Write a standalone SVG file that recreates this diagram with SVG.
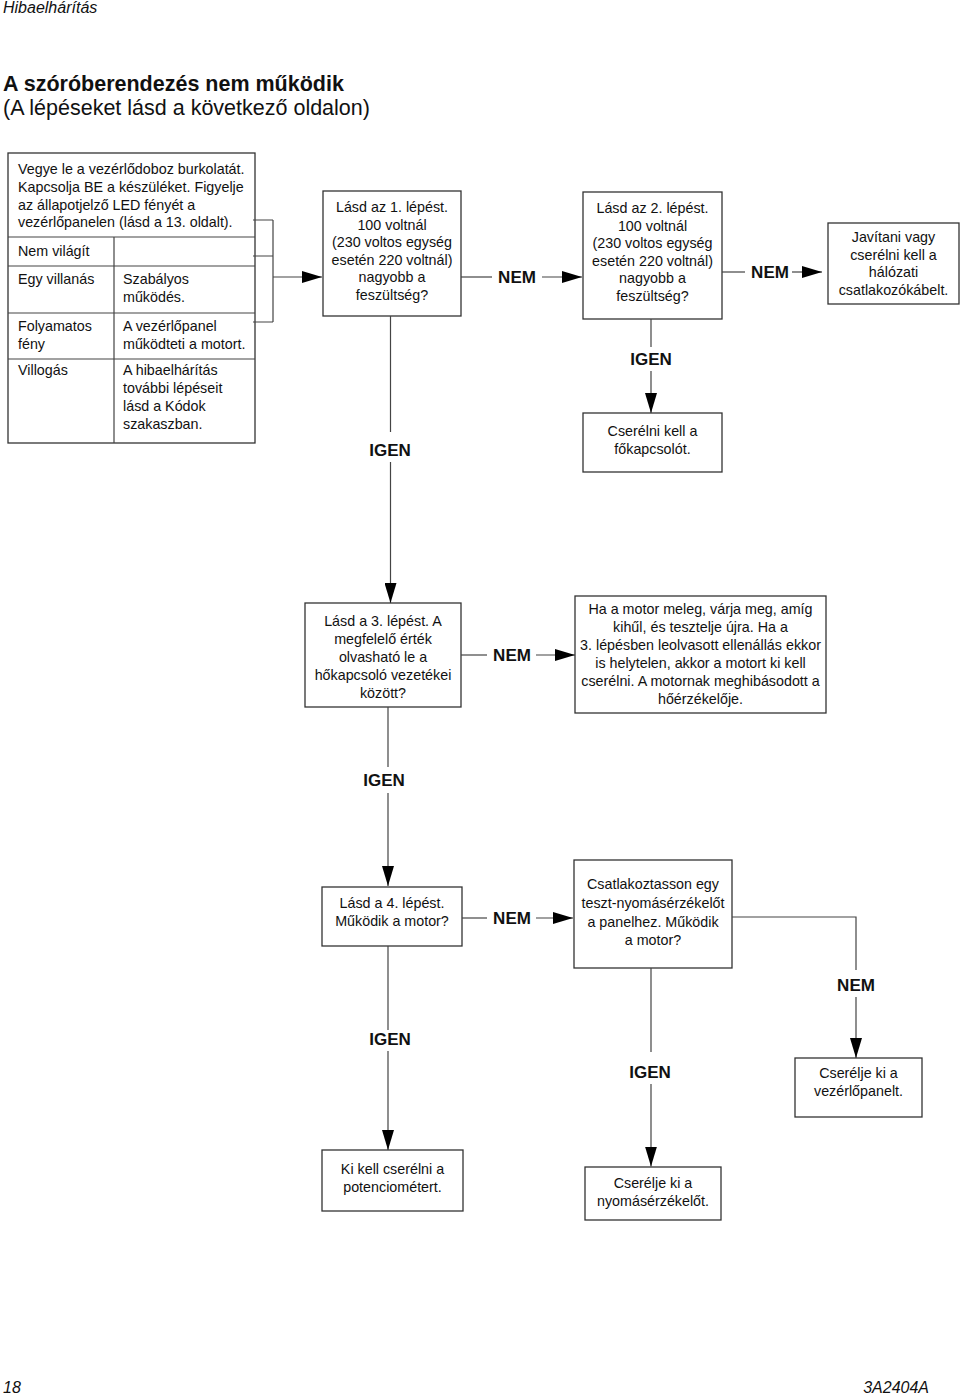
<svg xmlns="http://www.w3.org/2000/svg" width="960" height="1397" viewBox="0 0 960 1397">
<style>
text{font-family:"Liberation Sans",Arial,sans-serif;fill:#111}
.t{font-size:14.3px}
.c{text-anchor:middle}
.lab{font-size:17px;font-weight:bold;text-anchor:middle}
.box{fill:#fff;stroke:#333;stroke-width:1.3}
.ln{fill:none;stroke:#444;stroke-width:1.2}
.it{font-style:italic;font-size:16px}
</style>
<defs>
<marker id="ah" markerUnits="userSpaceOnUse" markerWidth="20" markerHeight="12" refX="20" refY="6" orient="auto">
<path d="M0,0 L20,6 L0,12 z" fill="#000"/>
</marker>
</defs>
<rect width="960" height="1397" fill="#fff"/>
<text class="it" x="3" y="12.5">Hibaelhárítás</text>
<text x="3" y="91" font-size="21.5" font-weight="bold">A szóróberendezés nem működik</text>
<text x="3" y="115" font-size="21.5">(A lépéseket lásd a következő oldalon)</text>
<text class="it" x="3" y="1393">18</text>
<text class="it" x="929" y="1393" text-anchor="end">3A2404A</text>

<g id="table">
<rect class="box" x="8" y="153" width="247" height="290"/>
<path class="ln" d="M8,237 H255 M8,266 H255 M8,313 H255 M8,359 H255 M114,237 V443" stroke="#333"/>
<text class="t" x="18" y="174">Vegye le a vezérlődoboz burkolatát.</text>
<text class="t" x="18" y="192">Kapcsolja BE a készüléket. Figyelje</text>
<text class="t" x="18" y="209.5">az állapotjelző LED fényét a</text>
<text class="t" x="18" y="227">vezérlőpanelen (lásd a 13. oldalt).</text>
<text class="t" x="18" y="256">Nem világít</text>
<text class="t" x="18" y="284">Egy villanás</text>
<text class="t" x="123" y="284">Szabályos</text>
<text class="t" x="123" y="302">működés.</text>
<text class="t" x="18" y="331">Folyamatos</text>
<text class="t" x="18" y="349">fény</text>
<text class="t" x="123" y="331">A vezérlőpanel</text>
<text class="t" x="123" y="349">működteti a motort.</text>
<text class="t" x="18" y="375">Villogás</text>
<text class="t" x="123" y="375">A hibaelhárítás</text>
<text class="t" x="123" y="393">további lépéseit</text>
<text class="t" x="123" y="411">lásd a Kódok</text>
<text class="t" x="123" y="429">szakaszban.</text>
</g>

<g id="n1">
<rect class="box" x="323" y="191" width="138" height="125"/>
<text class="t c" x="392" y="212">Lásd az 1. lépést.</text>
<text class="t c" x="392" y="229.6">100 voltnál</text>
<text class="t c" x="392" y="247.2">(230 voltos egység</text>
<text class="t c" x="392" y="264.8">esetén 220 voltnál)</text>
<text class="t c" x="392" y="282.4">nagyobb a</text>
<text class="t c" x="392" y="300">feszültség?</text>
</g>

<g id="n2">
<rect class="box" x="583" y="192" width="139" height="127"/>
<text class="t c" x="652.5" y="213">Lásd az 2. lépést.</text>
<text class="t c" x="652.5" y="230.6">100 voltnál</text>
<text class="t c" x="652.5" y="248.2">(230 voltos egység</text>
<text class="t c" x="652.5" y="265.8">esetén 220 voltnál)</text>
<text class="t c" x="652.5" y="283.4">nagyobb a</text>
<text class="t c" x="652.5" y="301">feszültség?</text>
</g>

<g id="n3">
<rect class="box" x="828" y="223" width="131" height="81"/>
<text class="t c" x="893.5" y="242">Javítani vagy</text>
<text class="t c" x="893.5" y="259.5">cserélni kell a</text>
<text class="t c" x="893.5" y="277">hálózati</text>
<text class="t c" x="893.5" y="294.5">csatlakozókábelt.</text>
</g>

<g id="n4">
<rect class="box" x="583" y="413" width="139" height="59"/>
<text class="t c" x="652.5" y="436">Cserélni kell a</text>
<text class="t c" x="652.5" y="454">főkapcsolót.</text>
</g>

<g id="n5">
<rect class="box" x="305" y="603" width="156" height="104"/>
<text class="t c" x="383" y="625.5">Lásd a 3. lépést. A</text>
<text class="t c" x="383" y="643.5">megfelelő érték</text>
<text class="t c" x="383" y="661.5">olvasható le a</text>
<text class="t c" x="383" y="679.5">hőkapcsoló vezetékei</text>
<text class="t c" x="383" y="697.5">között?</text>
</g>

<g id="n6">
<rect class="box" x="575" y="596" width="251" height="117"/>
<text class="t c" x="700.5" y="614">Ha a motor meleg, várja meg, amíg</text>
<text class="t c" x="700.5" y="632">kihűl, és tesztelje újra. Ha a</text>
<text class="t c" x="700.5" y="650">3. lépésben leolvasott ellenállás ekkor</text>
<text class="t c" x="700.5" y="668">is helytelen, akkor a motort ki kell</text>
<text class="t c" x="700.5" y="686">cserélni. A motornak meghibásodott a</text>
<text class="t c" x="700.5" y="704">hőérzékelője.</text>
</g>

<g id="n7">
<rect class="box" x="322" y="887" width="140" height="59"/>
<text class="t c" x="392" y="907.5">Lásd a 4. lépést.</text>
<text class="t c" x="392" y="925.5">Működik a motor?</text>
</g>

<g id="n8">
<rect class="box" x="574" y="860" width="158" height="108"/>
<text class="t c" x="653" y="889.3">Csatlakoztasson egy</text>
<text class="t c" x="653" y="908">teszt-nyomásérzékelőt</text>
<text class="t c" x="653" y="926.5">a panelhez. Működik</text>
<text class="t c" x="653" y="945">a motor?</text>
</g>

<g id="n9">
<rect class="box" x="322" y="1150" width="141" height="61"/>
<text class="t c" x="392.5" y="1174">Ki kell cserélni a</text>
<text class="t c" x="392.5" y="1192">potenciométert.</text>
</g>

<g id="n10">
<rect class="box" x="795" y="1058" width="127" height="59"/>
<text class="t c" x="858.5" y="1078.3">Cserélje ki a</text>
<text class="t c" x="858.5" y="1096">vezérlőpanelt.</text>
</g>

<g id="n11">
<rect class="box" x="585" y="1167" width="136" height="53"/>
<text class="t c" x="653" y="1188">Cserélje ki a</text>
<text class="t c" x="653" y="1206">nyomásérzékelőt.</text>
</g>

<g id="connectors">
<path class="ln" d="M253,220 H273 M253,256 H273 M253,322 H273 M273,220 V322"/>
<path class="ln" d="M273,277 H322" marker-end="url(#ah)"/>
<path class="ln" d="M461,277 H492"/>
<text class="lab" x="517" y="283">NEM</text>
<path class="ln" d="M542,277 H582" marker-end="url(#ah)"/>
<path class="ln" d="M722,272 H745"/>
<text class="lab" x="770" y="278">NEM</text>
<path class="ln" d="M792,272 H822" marker-end="url(#ah)"/>
<path class="ln" d="M651,319 V347"/>
<text class="lab" x="651" y="365">IGEN</text>
<path class="ln" d="M651,371 V413" marker-end="url(#ah)"/>
<path class="ln" d="M390.5,316 V432"/>
<text class="lab" x="390" y="456">IGEN</text>
<path class="ln" d="M390.5,462 V603" marker-end="url(#ah)"/>
<path class="ln" d="M461,655 H487"/>
<text class="lab" x="512" y="661">NEM</text>
<path class="ln" d="M536,655 H575" marker-end="url(#ah)"/>
<path class="ln" d="M388,707 V767"/>
<text class="lab" x="384" y="786">IGEN</text>
<path class="ln" d="M388,793 V886" marker-end="url(#ah)"/>
<path class="ln" d="M462,918 H487"/>
<text class="lab" x="512" y="924">NEM</text>
<path class="ln" d="M536,918 H573" marker-end="url(#ah)"/>
<path class="ln" d="M388,946 V1030"/>
<text class="lab" x="390" y="1045">IGEN</text>
<path class="ln" d="M388,1051 V1150" marker-end="url(#ah)"/>
<path class="ln" d="M732,917 H856 V970"/>
<text class="lab" x="856" y="991">NEM</text>
<path class="ln" d="M856,997 V1058" marker-end="url(#ah)"/>
<path class="ln" d="M651,968 V1052"/>
<text class="lab" x="650" y="1078">IGEN</text>
<path class="ln" d="M651,1084 V1166.5" marker-end="url(#ah)"/>
</g>
</svg>
